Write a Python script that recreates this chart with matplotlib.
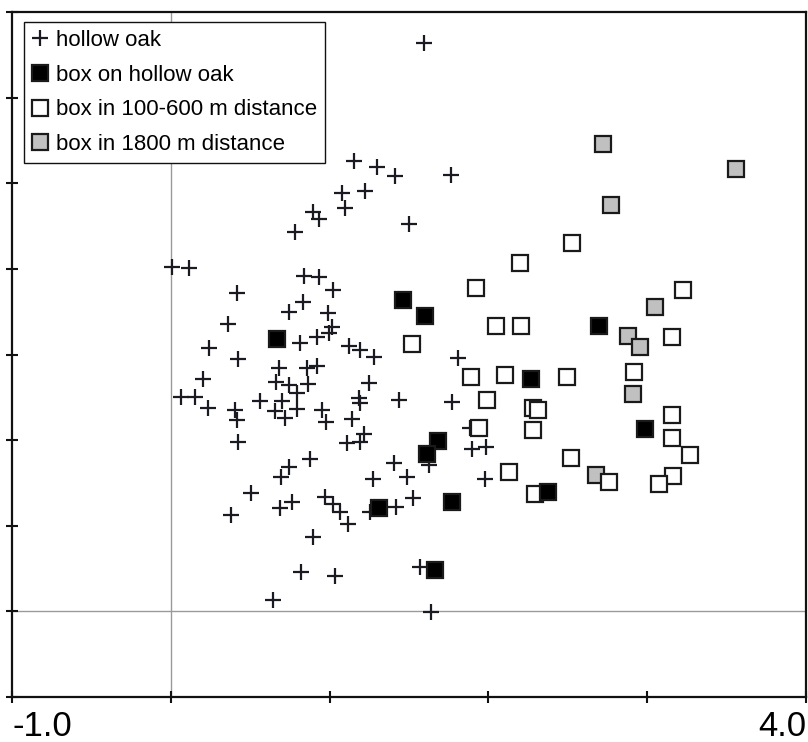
import matplotlib
matplotlib.use("Agg")
import matplotlib.pyplot as plt
from matplotlib.lines import Line2D

plt.rcParams['font.family'] = ['Liberation Sans', 'DejaVu Sans']

# hollow oak (+)
oak_x = [1.594, 1.154, 1.298, 1.412, 1.764, 1.078, 1.223, 1.097, 0.895, 0.933,
         0.782, 1.500, 0.008, 0.115, 0.839, 0.933, 1.021, 0.417, 0.832, 0.744,
         0.990, 0.360, 1.015, 0.996, 0.814, 0.921, 0.241, 1.122, 1.191, 1.280,
         0.423, 0.681, 0.858, 0.921, 1.809, 0.203, 1.248, 0.662, 0.744, 0.795,
         0.864, 0.064, 0.152, 0.562, 0.700, 1.185, 1.191, 1.437, 1.771, 0.234,
         0.404, 0.417, 0.656, 0.719, 0.795, 0.952, 0.977, 1.141, 0.423, 1.217,
         1.191, 1.110, 0.877, 0.744, 0.694, 1.626, 1.884, 1.897, 1.985, 1.406,
         1.487, 1.273, 1.979, 0.505, 0.971, 1.021, 1.065, 0.763, 0.688, 0.379,
         1.116, 0.895, 1.254, 1.418, 1.525, 0.820, 1.034, 0.644, 1.569, 1.639]
oak_y = [6.636, 5.259, 5.190, 5.085, 5.096, 4.886, 4.910, 4.711, 4.665, 4.583,
         4.431, 4.525, 4.023, 4.012, 3.918, 3.907, 3.755, 3.720, 3.615, 3.499,
         3.487, 3.359, 3.324, 3.254, 3.137, 3.207, 3.079, 3.102, 3.055, 2.974,
         2.950, 2.845, 2.845, 2.869, 2.962, 2.717, 2.671, 2.682, 2.647, 2.554,
         2.659, 2.507, 2.507, 2.461, 2.461, 2.496, 2.437, 2.472, 2.449, 2.379,
         2.356, 2.239, 2.344, 2.262, 2.367, 2.356, 2.216, 2.251, 1.983, 2.076,
         1.983, 1.971, 1.784, 1.691, 1.574, 1.714, 2.146, 1.901, 1.924, 1.738,
         1.574, 1.551, 1.551, 1.388, 1.341, 1.259, 1.166, 1.283, 1.213, 1.120,
         1.026, 0.863, 1.166, 1.224, 1.329, 0.455, 0.408, 0.128, 0.513, -0.012]

# box on hollow oak (black)
box_oak_x = [0.669, 1.462, 1.601, 2.268, 2.696, 1.683, 1.613, 2.986, 2.375, 1.771, 1.311, 1.664]
box_oak_y = [3.184, 3.638, 3.452, 2.717, 3.335, 1.994, 1.843, 2.134, 1.399, 1.283, 1.213, 0.478]

# box in 100-600 m distance (open)
box_near_x = [2.526, 2.199, 1.922, 3.225, 2.048, 2.205, 3.156, 1.519, 1.890, 2.105,
              2.495, 2.917, 2.281, 2.312, 1.991, 3.156, 2.281, 1.941, 3.156, 3.269,
              2.520, 2.759, 3.162, 3.074, 2.130, 2.293]
box_near_y = [4.303, 4.070, 3.778, 3.755, 3.335, 3.335, 3.207, 3.125, 2.741, 2.764,
              2.741, 2.799, 2.379, 2.356, 2.472, 2.297, 2.122, 2.146, 2.029, 1.831,
              1.796, 1.516, 1.586, 1.493, 1.633, 1.376]

# box in 1800 m distance (grey)
box_far_x = [2.722, 3.559, 2.772, 3.049, 2.879, 2.955, 2.911, 2.678]
box_far_y = [5.458, 5.166, 4.746, 3.557, 3.219, 3.090, 2.542, 1.598]

labels = ['hollow oak', 'box on hollow oak', 'box in 100-600 m distance', 'box in 1800 m distance']
x_ticks = [-1, 0, 1, 2, 3, 4]
x_ticklabels = ['-1.0', '', '', '', '', '4.0']
y_ticks = [-1, 0, 1, 2, 3, 4, 5, 6, 7]

fig = plt.figure(figsize=(8.08, 7.42), dpi=100)
ax = fig.add_axes([12/808, 45/742, 794/808, 685/742])
ax.set_xlim(-1, 4)
ax.set_ylim(-1, 7)

ax.axhline(0, color='#9a9a9a', lw=1.0, zorder=1)
ax.axvline(0, color='#9a9a9a', lw=1.0, zorder=1)

edge = '#1a1a1a'
PMS, PMW = 12, 1.6
SMS, SMW = 11.2, 1.6
ax.plot(oak_x, oak_y, ls='none', marker='+', ms=PMS, mew=PMW, color='#1a1a22', zorder=3)
ax.plot(box_far_x, box_far_y, ls='none', marker='s', ms=SMS, mew=SMW,
        mfc='#c0c0c0', mec=edge, zorder=4)
ax.plot(box_near_x, box_near_y, ls='none', marker='s', ms=SMS, mew=SMW,
        mfc='white', mec=edge, zorder=5)
ax.plot(box_oak_x, box_oak_y, ls='none', marker='s', ms=SMS, mew=SMW,
        mfc='black', mec=edge, zorder=6)

ax.set_xticks(x_ticks)
ax.set_xticklabels(x_ticklabels)
ax.set_yticks(y_ticks)
ax.set_yticklabels([])
ax.tick_params(axis='both', direction='inout', length=8, width=1.5, color='#111111')
ax.tick_params(axis='x', labelsize=25, pad=5)
tl = ax.get_xticklabels()
tl[0].set_ha('left')
tl[-1].set_ha('right')
for s in ax.spines.values():
    s.set_linewidth(1.6)
    s.set_color('#111111')

handles = [
    Line2D([], [], ls='none', marker='+', ms=PMS, mew=PMW, color='#1a1a22'),
    Line2D([], [], ls='none', marker='s', ms=SMS, mew=SMW, mfc='black', mec=edge),
    Line2D([], [], ls='none', marker='s', ms=SMS, mew=SMW, mfc='white', mec=edge),
    Line2D([], [], ls='none', marker='s', ms=SMS, mew=SMW, mfc='#c0c0c0', mec=edge),
]
leg = ax.legend(handles, labels, loc='upper left', bbox_to_anchor=(12/794, 675/685),
                borderaxespad=0, fontsize=16, frameon=True, fancybox=False,
                edgecolor='#111111', framealpha=1, borderpad=0.35, labelspacing=0.62,
                handlelength=0.7, handletextpad=0.4)
leg.get_frame().set_linewidth(1.0)
leg.set_zorder(10)

fig.savefig('out.png', dpi=100)
